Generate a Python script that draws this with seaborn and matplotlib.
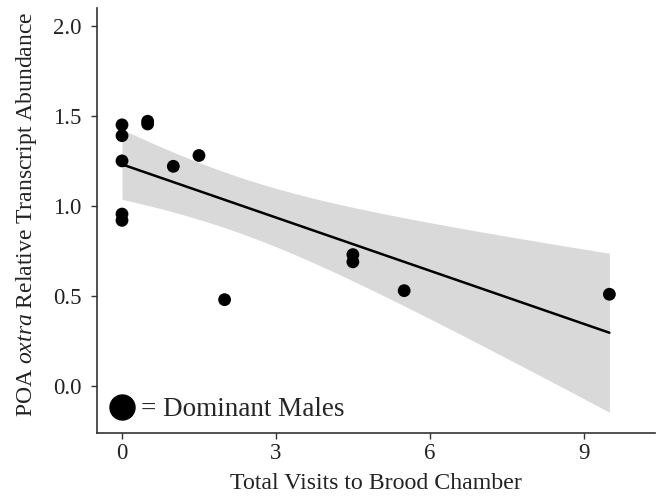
import matplotlib
matplotlib.use('Agg')
import matplotlib.pyplot as plt
from matplotlib.lines import Line2D
import seaborn as sns
import numpy as np
import pandas as pd

# visits to brood chamber vs POA oxtra transcript abundance (dominant males)
visits = [0, 0, 0, 0, 0, 0.5, 0.5, 1.0, 1.5, 2.0, 4.5, 4.5, 5.5, 9.5]
abundance = [1.45, 1.39, 1.25, 0.955, 0.92, 1.47, 1.455, 1.22, 1.28, 0.48, 0.73, 0.69, 0.53, 0.51]
x_ticks = [0, 3, 6, 9]
y_ticks = [0.0, 0.5, 1.0, 1.5, 2.0]

df = pd.DataFrame({'visits': visits, 'abundance': abundance})

sns.set_style('ticks')
plt.rcParams['font.family'] = ['Liberation Serif', 'DejaVu Serif']
plt.rcParams['mathtext.fontset'] = 'custom'
plt.rcParams['mathtext.rm'] = 'Liberation Serif'
plt.rcParams['mathtext.it'] = 'Liberation Serif:italic'

fig = plt.figure(figsize=(6.59, 4.98), dpi=100)
ax = fig.add_axes([0.147, 0.1305, 0.847, 0.854])

# analytic 95% confidence band of the linear fit (like ggplot's geom_smooth)
x = np.asarray(visits, float)
y = np.asarray(abundance, float)
n = len(x)
slope, intercept = np.polyfit(x, y, 1)
resid = y - (intercept + slope * x)
s_err = np.sqrt(np.sum(resid ** 2) / (n - 2))
grid = np.linspace(x.min(), x.max(), 100)
t_crit = 2.179  # t(0.975, df=12)
half = t_crit * s_err * np.sqrt(1 / n + (grid - x.mean()) ** 2 / np.sum((x - x.mean()) ** 2))
fit = intercept + slope * grid
ax.fill_between(grid, fit - half, fit + half, color='#d9d9d9', lw=0, zorder=0)

sns.regplot(data=df, x='visits', y='abundance', ax=ax, ci=None,
            scatter_kws={'s': 85, 'color': 'black', 'edgecolor': 'none', 'alpha': 1, 'zorder': 3},
            line_kws={'color': 'black', 'lw': 1.8, 'zorder': 2})

ax.set_xlim(-0.49, 10.39)
ax.set_ylim(-0.26, 2.1)
ax.set_xticks(x_ticks)
ax.set_yticks(y_ticks)
ax.set_yticklabels(['%.1f' % v for v in y_ticks])
ax.tick_params(labelsize=16.5, colors='#333333', length=4, width=1, labelcolor='#222222')
ax.tick_params(axis='y', pad=7)
ax.set_xlabel('Total Visits to Brood Chamber', fontsize=17.2, color='#222222', labelpad=6)
ax.set_ylabel(r'POA $\it{oxtra}$ Relative Transcript Abundance', fontsize=17,
              color='#222222', labelpad=10)
ax.yaxis.label.set_y(0.515)
for side in ['left', 'bottom']:
    ax.spines[side].set_color('#333333')
    ax.spines[side].set_linewidth(1.2)
sns.despine(ax=ax)

handle = Line2D([], [], marker='o', color='black', linestyle='none', markersize=18)
ax.legend([handle], ['= Dominant Males'], loc='lower left', frameon=False,
          fontsize=19.5, handletextpad=0.1, borderaxespad=0.0, handlelength=1.2,
          bbox_to_anchor=(-0.004, 0.0))

fig.savefig('out.png', dpi=100)
